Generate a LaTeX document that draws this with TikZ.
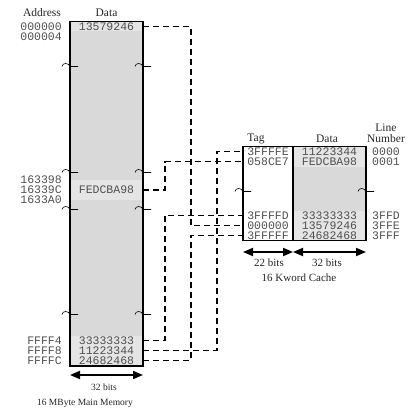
\documentclass[tikz,border=0pt]{standalone}
\usepackage{fontspec}
\setmainfont{Liberation Serif}
\newfontfamily\hexfont{Liberation Mono}
\usetikzlibrary{arrows.meta}
\definecolor{memgray}{HTML}{D9D9D9}
\definecolor{cellgray}{HTML}{E5E5E5}
\definecolor{hexcol}{HTML}{505050}
\definecolor{labcol}{HTML}{252525}
\begin{document}
\begin{tikzpicture}[x=1pt,y=-1pt,
  hex/.style={font=\hexfont\fontsize{11.5}{12}\selectfont, text=hexcol, inner sep=0pt},
  mcell/.style={hex, minimum width=73pt, minimum height=10pt, fill=cellgray},
  tcell/.style={hex, minimum width=50pt, minimum height=10pt},
  dcell/.style={hex, minimum width=73pt, minimum height=10pt, fill=cellgray},
  addr/.style={hex, anchor=east},
  lnum/.style={hex, anchor=west},
  head/.style={font=\fontsize{11.5}{12}\selectfont, text=labcol, inner sep=0pt},
  captxt/.style={font=\fontsize{9.5}{12}\selectfont, text=labcol, inner sep=0pt},
  ccaptxt/.style={font=\fontsize{11}{12}\selectfont, text=labcol, inner sep=0pt},
  boxline/.style={line width=1.8pt},
  conn/.style={line width=1.8pt, dash pattern=on 6pt off 4pt},
  dim/.style={line width=1.8pt, {Triangle[length=10pt,width=8pt]}-{Triangle[length=10pt,width=8pt]}},
  brk/.pic={\draw[line width=0.6pt] (-8,1.5) .. controls (-7.5,-2.5) and (-1.5,-2.5) .. (0,1.5) -- (8,1.5);}
]
\useasboundingbox (0,0) rectangle (408,414);

% ---------- main memory ----------
\fill[memgray] (70,21.5) rectangle (143,366);
\node[head] (haddr) at (42,13) {Address};
\node[head] (hdata) at (106.5,13) {Data};

\node[mcell] (mr0) at (106.5,26.5) {13579246};
\node[mcell, minimum height=20pt] (mr1) at (106.5,190) {FEDCBA98};
\node[mcell] (mr2) at (106.5,340.5) {33333333};
\node[mcell] (mr3) at (106.5,350.5) {11223344};
\node[mcell] (mr4) at (106.5,360.5) {24682468};
\draw[boxline] (70,21.5) rectangle (143,366);

\node[addr] (a0) at (62,26.5) {000000};
\node[addr] (a1) at (62,36.5) {000004};
\node[addr] (a2) at (62,180) {163398};
\node[addr] (a3) at (62,190) {16339C};
\node[addr] (a4) at (62,200) {1633A0};
\node[addr] (a5) at (62,340.5) {FFFF4};
\node[addr] (a6) at (62,350.5) {FFFF8};
\node[addr] (a7) at (62,360.5) {FFFFC};

\foreach \yy in {65,171,208,313}{
  \pic at (70,\yy) {brk};
  \pic at (143,\yy) {brk};
}

\coordinate (mdl) at (70,375);
\coordinate (mdr) at (143,375);
\draw[dim] (mdl) -- (mdr);
\node[captxt] (mbits) at (104,387) {32 bits};
\node[captxt] (mcap) at (85,403) {16 MByte Main Memory};

% ---------- cache ----------
\fill[white] (243,146.5) rectangle (293,240.5);
\fill[memgray] (293,146.5) rectangle (366,240.5);
\node[head] (htag) at (256,139) {Tag};
\node[head] (hcdata) at (327,139) {Data};
\node[head] (hline) at (386,128) {Line};
\node[head] (hnum) at (386,139) {Number};

\node[tcell] (ct0) at (268,151.5) {3FFFFE};
\node[tcell] (ct1) at (268,161.5) {058CE7};
\node[tcell] (ct2) at (268,215.5) {3FFFFD};
\node[tcell] (ct3) at (268,225.5) {000000};
\node[tcell] (ct4) at (268,235.5) {3FFFFF};

\node[dcell] (cd0) at (329.5,151.5) {11223344};
\node[dcell] (cd1) at (329.5,161.5) {FEDCBA98};
\node[dcell] (cd2) at (329.5,215.5) {33333333};
\node[dcell] (cd3) at (329.5,225.5) {13579246};
\node[dcell] (cd4) at (329.5,235.5) {24682468};

\draw[boxline] (243,146.5) rectangle (366,240.5);
\draw[boxline] (293,146.5) -- (293,240.5);

\node[lnum] (l0) at (372,151.5) {0000};
\node[lnum] (l1) at (372,161.5) {0001};
\node[lnum] (l2) at (372,215.5) {3FFD};
\node[lnum] (l3) at (372,225.5) {3FFE};
\node[lnum] (l4) at (372,235.5) {3FFF};

\pic at (243,190) {brk};
\pic at (366,190) {brk};

\coordinate (tdl) at (243,252);
\coordinate (tdm) at (293,252);
\coordinate (tdr) at (366,252);
\draw[dim] (tdl) -- (tdm);
\draw[dim] (tdm) -- (tdr);
\node[ccaptxt] (tbits) at (269,263) {22 bits};
\node[ccaptxt] (dbits) at (327,263) {32 bits};
\node[ccaptxt] (ccap) at (299,278) {16 Kword Cache};

% ---------- connectors ----------
\coordinate (xa) at (165,0);
\coordinate (xb) at (191,0);
\coordinate (xc) at (217,0);
\draw[conn] (mr0.east) -- (mr0.east -| xb) |- (ct3.west);
\draw[conn] (mr1.east) -- (mr1.east -| xa) |- (ct1.west);
\draw[conn] (mr2.east) -- (mr2.east -| xa) |- (ct2.west);
\draw[conn] (mr3.east) -- (mr3.east -| xc) |- (ct0.west);
\draw[conn] (mr4.east) -- (mr4.east -| xb) |- (ct4.west);
\end{tikzpicture}
\end{document}
